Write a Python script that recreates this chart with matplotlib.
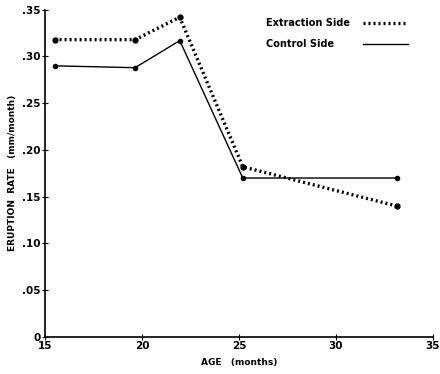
import matplotlib.pyplot as plt
from matplotlib.lines import Line2D

# ages (months) and eruption rates (mm/month)
age_extraction = [15.5, 19.65, 21.95, 25.2, 33.15]
rate_extraction = [0.318, 0.318, 0.342, 0.182, 0.140]

age_control = [15.5, 19.65, 21.95, 25.2, 33.15]
rate_control = [0.290, 0.288, 0.317, 0.170, 0.170]

xticks = [15, 20, 25, 30, 35]
yticks = [0, 0.05, 0.10, 0.15, 0.20, 0.25, 0.30, 0.35]
ytick_labels = ["0", ".05", ".10", ".15", ".20", ".25", ".30", ".35"]

fig = plt.figure(figsize=(4.4, 3.74), dpi=100)
ax = fig.add_axes([0.102, 0.099, 0.882, 0.875])

dotted = dict(color="black", linestyle=(0, (0.6, 0.9)), linewidth=2.4)
solid = dict(color="black", linestyle="-", linewidth=1.0)

ax.plot(age_extraction, rate_extraction, marker="o", markersize=3.5, **dotted)
ax.plot(age_control, rate_control, marker="o", markersize=3.0, **solid)

ax.set_xlim(15, 35)
ax.set_ylim(0, 0.35)
ax.set_xticks(xticks)
ax.set_xticklabels([str(t) for t in xticks], fontsize=7.5, fontweight="bold")
ax.set_yticks(yticks)
ax.set_yticklabels(ytick_labels, fontsize=7.5, fontweight="bold")
ax.tick_params(axis="both", direction="inout", length=4, width=0.8, pad=1)

for side in ["top", "right"]:
    ax.spines[side].set_visible(False)
ax.spines["left"].set_linewidth(1.2)
ax.spines["bottom"].set_linewidth(1.2)

ax.set_xlabel("AGE   (months)", fontsize=6.5, fontweight="bold", labelpad=5)
ax.set_ylabel("ERUPTION  RATE   (mm/month)", fontsize=6.5, fontweight="bold", labelpad=4)

# hand-placed key, text on the left and line sample on the right
key = [("Extraction Side", dotted, 0.960), ("Control Side", solid, 0.896)]
for label, style, ky in key:
    ax.text(0.57, ky, label, transform=ax.transAxes, fontsize=7,
            fontweight="bold", ha="left", va="center")
    ax.add_line(Line2D([0.82, 0.935], [ky, ky], transform=ax.transAxes, **style))

plt.savefig("out.png", dpi=100)
